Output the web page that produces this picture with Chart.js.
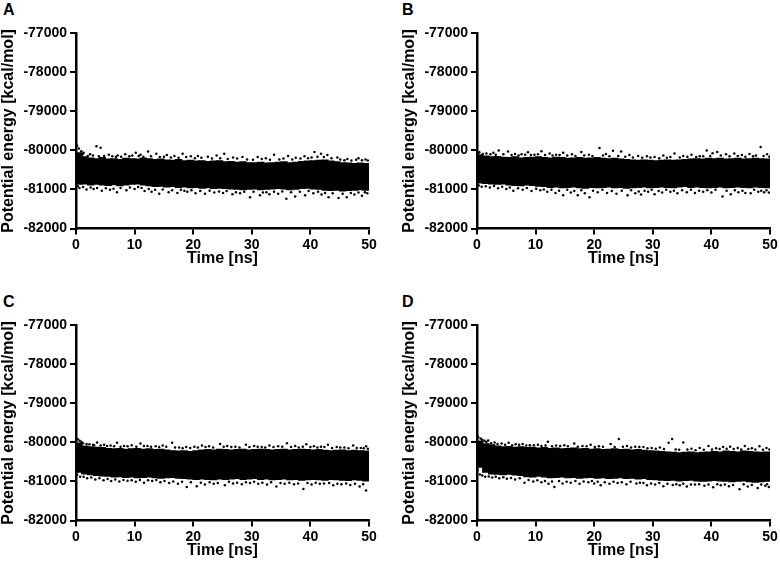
<!DOCTYPE html>
<html><head><meta charset="utf-8">
<script src="https://cdn.jsdelivr.net/npm/chart.js@4.4.1/dist/chart.umd.min.js"></script>
<style>
body{margin:0;width:780px;height:563px;background:#fff;position:relative;overflow:hidden;font-family:"Liberation Sans",Arial,sans-serif}
.p{position:absolute;width:379px;height:271px}
.l{position:absolute;font-weight:bold;font-size:16px;line-height:16px;color:#000}
</style></head><body>
<div class="l" style="left:3px;top:2px">A</div>
<div class="l" style="left:402px;top:2px">B</div>
<div class="l" style="left:3px;top:294px">C</div>
<div class="l" style="left:402px;top:294px">D</div>
<div class="p" style="left:0;top:0"><canvas id="cA"></canvas></div>
<div class="p" style="left:401px;top:0"><canvas id="cB"></canvas></div>
<div class="p" style="left:0;top:292px"><canvas id="cC"></canvas></div>
<div class="p" style="left:401px;top:292px"><canvas id="cD"></canvas></div>
<script>
// time bins (ns, bin centres, 1 ns wide)
const timeBins = [0.5,1.5,2.5,3.5,4.5,5.5,6.5,7.5,8.5,9.5,10.5,11.5,12.5,13.5,14.5,15.5,16.5,17.5,18.5,19.5,20.5,21.5,22.5,23.5,24.5,25.5,26.5,27.5,28.5,29.5,30.5,31.5,32.5,33.5,34.5,35.5,36.5,37.5,38.5,39.5,40.5,41.5,42.5,43.5,44.5,45.5,46.5,47.5,48.5,49.5];
const xTicks = [0,10,20,30,40,50];
const yTicks = [-82000,-81000,-80000,-79000,-78000,-77000];

// Panel A: dense band upper / lower edge (kcal/mol)
const upperA = [-80050,-80150,-80180,-80200,-80170,-80210,-80200,-80220,-80190,-80200,-80210,-80180,-80200,-80220,-80210,-80230,-80240,-80220,-80250,-80240,-80260,-80250,-80270,-80260,-80250,-80280,-80270,-80290,-80280,-80300,-80300,-80290,-80310,-80300,-80290,-80280,-80300,-80290,-80270,-80260,-80250,-80240,-80230,-80260,-80280,-80300,-80310,-80320,-80310,-80320];
const lowerA = [-80880,-80870,-80900,-80880,-80900,-80910,-80890,-80920,-80900,-80880,-80870,-80900,-80920,-80940,-80930,-80950,-80940,-80960,-80950,-80970,-80960,-80980,-80970,-80990,-80980,-80990,-81000,-81010,-81020,-81010,-81000,-81020,-81010,-81000,-80990,-81000,-81020,-81010,-80990,-80980,-81000,-81010,-81030,-81040,-81030,-81050,-81040,-81030,-81020,-81030];
const scatterA = [[0.2,-79880],[0.5,-79950],[1.3,-80060],[2.4,-80100],[3.5,-79890],[4.2,-79930],[5.6,-80110],[7.1,-80130],[8.4,-80100],[10.2,-80060],[11.0,-80110],[12.3,-80025],[13.7,-80085],[15.5,-80120],[16.8,-80140],[18.2,-80085],[19.6,-80150],[20.8,-80145],[22.5,-80160],[24.0,-80130],[25.3,-80085],[26.8,-80180],[28.4,-80170],[31.0,-80170],[32.4,-80200],[33.8,-80110],[36.2,-80140],[37.5,-80190],[39.0,-80150],[40.7,-80040],[41.8,-80085],[42.9,-80120],[44.6,-80180],[46.3,-80220],[48.2,-80200],[49.4,-80230],
[0.6,-80960],[1.8,-81000],[3.0,-80990],[4.4,-81030],[5.8,-81010],[7.0,-81070],[8.6,-81020],[10.0,-80990],[11.7,-81040],[12.9,-81060],[14.2,-81110],[15.8,-81070],[17.3,-81090],[19.0,-81060],[20.4,-81100],[22.0,-81110],[23.6,-81080],[25.1,-81090],[26.7,-81120],[28.0,-81100],[29.7,-81200],[31.4,-81150],[33.0,-81120],[34.5,-81110],[35.9,-81240],[37.4,-81180],[39.1,-81150],[40.5,-81100],[41.9,-81130],[43.1,-81200],[44.8,-81220],[46.2,-81200],[47.5,-81130],[48.8,-81160],[49.7,-81100]];
const fringeA = [[0.9,-80020],[1.1,-80100],[2.0,-80140],[2.9,-80130],[3.9,-80150],[4.8,-80140],[6.2,-80150],[6.8,-80170],[7.7,-80160],[9.1,-80150],[9.6,-80130],[10.7,-80140],[11.5,-80160],[12.8,-80150],[14.3,-80170],[15.0,-80160],[16.2,-80180],[17.5,-80190],[18.8,-80170],[20.3,-80200],[21.4,-80190],[23.2,-80210],[24.6,-80200],[25.9,-80220],[27.5,-80210],[29.2,-80230],[30.2,-80240],[31.7,-80220],[33.1,-80240],[34.7,-80230],[35.4,-80210],[36.9,-80230],[38.3,-80210],[39.6,-80200],[40.2,-80180],[41.2,-80160],[42.3,-80170],[43.6,-80200],[45.1,-80230],[45.8,-80250],[47.0,-80260],[47.8,-80240],[48.8,-80250],[49.8,-80260],
[0.3,-80920],[1.2,-80940],[2.5,-80950],[3.6,-80960],[5.1,-80970],[6.4,-80980],[7.6,-80960],[9.2,-80950],[10.6,-80940],[11.2,-80960],[12.4,-80990],[13.5,-81010],[14.8,-81000],[16.4,-81020],[17.9,-81010],[18.5,-81030],[19.7,-81020],[21.2,-81040],[22.8,-81030],[24.4,-81050],[25.7,-81040],[27.3,-81070],[28.7,-81060],[30.3,-81060],[31.9,-81080],[32.5,-81070],[33.8,-81060],[35.2,-81050],[36.7,-81070],[38.2,-81060],[39.7,-81040],[41.3,-81060],[42.5,-81090],[43.8,-81100],[45.5,-81110],[46.9,-81090],[48.2,-81080],[49.3,-81070]];

// Panel B
const upperB = [-80100,-80130,-80150,-80140,-80160,-80170,-80150,-80180,-80170,-80160,-80150,-80170,-80180,-80160,-80170,-80190,-80180,-80170,-80190,-80180,-80170,-80190,-80200,-80190,-80210,-80220,-80230,-80240,-80230,-80240,-80250,-80240,-80230,-80240,-80230,-80220,-80210,-80200,-80210,-80190,-80200,-80190,-80210,-80200,-80190,-80210,-80200,-80190,-80200,-80210];
const lowerB = [-80850,-80860,-80870,-80880,-80870,-80900,-80910,-80920,-80900,-80910,-80930,-80940,-80960,-80950,-80970,-80960,-80950,-80970,-80980,-80960,-80970,-80960,-80950,-80970,-80960,-80980,-80970,-80960,-80950,-80970,-80960,-80950,-80960,-80970,-80950,-80940,-80960,-80950,-80960,-80970,-80960,-80950,-80970,-80960,-80950,-80960,-80970,-80950,-80960,-80970];
const scatterB = [[0.4,-80050],[1.6,-80080],[2.8,-80060],[3.7,-80000],[5.3,-80030],[6.5,-80090],[7.6,-80100],[8.7,-80050],[9.8,-80110],[11.0,-80020],[12.4,-80080],[13.5,-80110],[14.7,-80060],[16.2,-80100],[17.8,-80040],[19.1,-80110],[20.9,-79940],[22.0,-80090],[23.2,-80010],[24.6,-80030],[26.0,-80120],[27.5,-80140],[29.0,-80150],[30.3,-80170],[31.8,-80130],[33.7,-80080],[35.2,-80140],[36.6,-80110],[38.0,-80150],[39.2,-80000],[40.2,-80070],[41.0,-80040],[42.5,-80100],[43.9,-80080],[45.2,-80120],[46.5,-80090],[47.6,-80130],[48.4,-79915],[49.5,-80100],
[0.8,-80930],[2.2,-80950],[3.6,-80970],[5.0,-80990],[6.2,-81030],[7.8,-81010],[9.3,-81040],[10.8,-81020],[12.0,-81060],[13.4,-81090],[14.7,-81150],[16.0,-81080],[17.2,-81150],[18.4,-81100],[19.2,-81200],[20.6,-81070],[22.2,-81090],[23.8,-81110],[25.7,-81150],[27.0,-81100],[28.0,-81130],[29.2,-81060],[30.3,-81120],[31.6,-81080],[33.0,-81060],[34.2,-81100],[35.8,-81070],[37.2,-81090],[38.6,-81060],[40.0,-81080],[41.9,-81180],[43.3,-81120],[44.6,-81070],[45.8,-81090],[46.7,-81100],[48.0,-81060],[49.0,-81070],[49.8,-81080]];
const fringeB = [[0.2,-80070],[1.0,-80090],[2.3,-80100],[3.2,-80110],[4.5,-80100],[5.9,-80120],[7.1,-80130],[8.2,-80110],[9.2,-80120],[10.4,-80100],[11.6,-80120],[12.9,-80130],[14.1,-80120],[15.4,-80130],[16.8,-80140],[18.3,-80130],[19.7,-80140],[21.5,-80130],[22.6,-80150],[24.1,-80140],[25.3,-80160],[26.6,-80180],[28.2,-80190],[29.6,-80180],[31.1,-80200],[32.4,-80190],[33.0,-80170],[34.6,-80180],[35.9,-80160],[37.4,-80170],[38.6,-80150],[39.8,-80140],[41.6,-80130],[43.1,-80150],[44.5,-80140],[45.8,-80160],[47.1,-80150],[48.9,-80140],[49.9,-80160],
[0.3,-80900],[1.5,-80920],[2.9,-80910],[4.3,-80930],[5.6,-80950],[7.0,-80970],[8.5,-80960],[10.1,-80980],[11.4,-81000],[12.7,-81010],[14.0,-81030],[15.4,-81010],[16.6,-81040],[17.8,-81020],[19.8,-81030],[21.4,-81010],[23.0,-81040],[24.7,-81030],[26.3,-81020],[27.6,-81050],[28.6,-81030],[29.8,-81010],[31.0,-81040],[32.3,-81010],[33.6,-81030],[35.0,-81020],[36.5,-81010],[37.9,-81030],[39.3,-81020],[40.7,-81010],[42.6,-81030],[44.0,-81020],[45.3,-81030],[47.3,-81010],[48.5,-81030],[49.4,-81020]];

// Panel C
const upperC = [-80000,-80080,-80100,-80110,-80120,-80140,-80150,-80140,-80160,-80150,-80140,-80160,-80150,-80170,-80160,-80180,-80200,-80210,-80200,-80220,-80200,-80180,-80170,-80180,-80160,-80170,-80180,-80170,-80160,-80180,-80170,-80160,-80170,-80180,-80170,-80160,-80180,-80170,-80160,-80170,-80180,-80170,-80190,-80200,-80190,-80180,-80200,-80190,-80200,-80210];
const lowerC = [-80780,-80820,-80840,-80860,-80870,-80880,-80900,-80890,-80910,-80900,-80920,-80910,-80900,-80920,-80930,-80920,-80910,-80930,-80940,-80950,-80960,-80950,-80960,-80970,-80950,-80960,-80950,-80940,-80960,-80950,-80940,-80960,-80950,-80970,-80960,-80950,-80970,-80960,-80980,-80970,-80960,-80970,-80980,-80960,-80970,-80980,-80990,-80970,-80980,-81000];
const scatterC = [[0.3,-79920],[0.9,-79980],[1.8,-80040],[2.9,-80060],[3.6,-80000],[4.8,-80060],[5.9,-80080],[7.0,-80010],[8.2,-80090],[9.5,-80070],[11.0,-80030],[12.2,-80090],[13.6,-80100],[14.8,-80080],[16.4,-80010],[17.6,-80130],[18.8,-80120],[20.2,-80110],[21.5,-80080],[22.7,-80100],[24.6,-80040],[25.8,-80090],[27.2,-80110],[29.0,-80060],[30.4,-80090],[31.7,-80120],[33.0,-80080],[34.5,-80100],[36.0,-80020],[37.4,-80090],[39.3,-80050],[40.6,-80100],[41.8,-80110],[43.0,-80060],[44.5,-80120],[45.8,-80130],[47.3,-80080],[48.6,-80140],[49.5,-80100],
[0.7,-80880],[1.9,-80920],[3.3,-80950],[4.7,-80970],[6.0,-80990],[7.4,-81000],[8.8,-80980],[10.2,-81010],[11.6,-81030],[13.0,-80990],[14.4,-81020],[15.9,-81040],[17.4,-81060],[18.9,-81145],[20.6,-81120],[22.0,-81080],[23.5,-81060],[25.4,-81100],[26.8,-81050],[28.3,-81070],[29.7,-81040],[31.1,-81060],[32.6,-81080],[34.2,-81130],[35.6,-81060],[37.2,-81070],[38.8,-81190],[40.2,-81080],[41.6,-81060],[43.9,-81100],[45.3,-81070],[46.8,-81090],[48.4,-81130],[49.5,-81230]];
const fringeC = [[0.6,-79960],[1.2,-80020],[2.3,-80050],[3.1,-80070],[4.2,-80080],[5.3,-80090],[6.5,-80100],[7.6,-80110],[8.8,-80100],[10.3,-80110],[11.6,-80090],[12.8,-80110],[14.2,-80120],[15.4,-80110],[16.9,-80130],[18.2,-80150],[19.5,-80140],[20.8,-80130],[22.1,-80120],[23.4,-80130],[25.2,-80110],[26.5,-80120],[27.9,-80130],[29.6,-80120],[31.0,-80110],[32.3,-80130],[33.7,-80120],[35.2,-80110],[36.7,-80120],[38.0,-80130],[38.7,-80110],[40.0,-80120],[41.2,-80130],[42.4,-80120],[43.7,-80140],[45.1,-80130],[46.5,-80150],[47.9,-80140],[49.1,-80150],[49.8,-80160],
[0.2,-80830],[1.3,-80880],[2.6,-80900],[4.0,-80920],[5.4,-80940],[6.7,-80950],[8.1,-80960],[9.5,-80970],[10.9,-80960],[12.3,-80970],[13.7,-80960],[15.1,-80990],[16.6,-81000],[18.1,-81010],[19.6,-81020],[21.3,-81030],[22.8,-81020],[24.2,-81040],[26.1,-81010],[27.5,-81030],[29.0,-81020],[30.4,-81010],[31.8,-81030],[33.3,-81020],[34.9,-81040],[36.4,-81030],[37.9,-81050],[39.5,-81040],[40.9,-81030],[42.3,-81050],[43.2,-81040],[44.6,-81060],[46.1,-81050],[47.6,-81060],[49.0,-81070]];

// Panel D
const upperD = [-79950,-80020,-80050,-80080,-80100,-80090,-80110,-80100,-80120,-80110,-80130,-80120,-80140,-80130,-80150,-80140,-80130,-80150,-80140,-80160,-80150,-80170,-80160,-80150,-80170,-80160,-80180,-80170,-80190,-80200,-80210,-80220,-80230,-80240,-80250,-80240,-80230,-80250,-80240,-80230,-80220,-80230,-80210,-80220,-80230,-80210,-80220,-80230,-80240,-80230];
const lowerD = [-80650,-80780,-80820,-80830,-80840,-80830,-80850,-80860,-80890,-80900,-80880,-80900,-80920,-80910,-80900,-80920,-80910,-80930,-80920,-80910,-80930,-80920,-80940,-80930,-80920,-80940,-80930,-80950,-80940,-80960,-80970,-80980,-80990,-80980,-81000,-80990,-80980,-81000,-81010,-81000,-80990,-81000,-81010,-81020,-81010,-81000,-81020,-81030,-81020,-81010];
const scatterD = [[0.2,-79860],[0.6,-79900],[1.3,-79960],[1.9,-79950],[3.0,-80000],[4.2,-80030],[5.4,-80010],[6.6,-80050],[7.8,-80040],[9.0,-80070],[10.4,-80060],[12.1,-79980],[13.5,-80080],[14.9,-80070],[16.6,-80030],[18.0,-80090],[19.4,-80060],[20.8,-80100],[22.8,-80040],[24.2,-79915],[25.6,-80090],[27.0,-80110],[28.4,-80120],[29.8,-80140],[31.2,-80130],[32.7,-80010],[33.3,-79915],[35.2,-80000],[36.6,-80160],[38.0,-80140],[39.5,-80090],[40.8,-80150],[42.0,-80120],[43.2,-80110],[44.5,-80140],[45.7,-80090],[46.9,-80150],[48.2,-80100],[49.4,-80140],
[0.5,-80820],[1.4,-80880],[2.6,-80900],[3.8,-80920],[5.1,-80930],[6.5,-80950],[8.1,-81030],[9.6,-81000],[11.0,-81020],[12.2,-81060],[13.2,-81140],[14.6,-81050],[16.0,-81030],[17.5,-81060],[19.0,-81020],[20.0,-81050],[21.1,-81100],[22.6,-81060],[24.0,-81040],[25.5,-81070],[27.2,-81050],[29.0,-81100],[30.4,-81080],[31.8,-81120],[33.4,-81090],[34.6,-81100],[35.8,-81130],[37.2,-81080],[38.8,-81110],[40.3,-81150],[41.6,-81100],[43.0,-81120],[44.8,-81200],[46.2,-81130],[47.9,-81170],[49.2,-81110],[49.8,-81140]];
const fringeD = [[0.9,-79930],[1.6,-79990],[2.4,-80020],[3.5,-80040],[4.8,-80060],[6.0,-80070],[7.2,-80060],[8.4,-80080],[9.7,-80070],[11.0,-80090],[11.7,-80080],[12.8,-80100],[14.2,-80090],[15.5,-80100],[17.2,-80110],[18.7,-80100],[20.1,-80120],[21.5,-80110],[23.5,-80120],[24.9,-80110],[26.3,-80130],[27.7,-80120],[29.1,-80150],[30.5,-80160],[31.9,-80170],[33.9,-80180],[34.5,-80190],[35.9,-80180],[37.3,-80200],[38.7,-80190],[40.1,-80180],[41.4,-80170],[42.6,-80160],[43.8,-80170],[45.1,-80180],[46.3,-80170],[47.5,-80180],[48.8,-80190],[49.9,-80180],
[0.1,-80700],[0.9,-80850],[2.0,-80870],[3.2,-80880],[4.5,-80890],[5.8,-80910],[7.3,-80920],[8.8,-80960],[10.3,-80970],[11.6,-80990],[12.8,-81000],[14.0,-80990],[15.3,-81010],[16.8,-80990],[18.2,-81000],[19.6,-80990],[20.6,-81010],[21.8,-81020],[23.3,-81010],[24.7,-81020],[26.2,-81010],[27.8,-81030],[28.4,-81040],[29.7,-81050],[31.1,-81040],[32.5,-81060],[34.0,-81070],[35.2,-81060],[36.5,-81080],[37.9,-81070],[39.5,-81080],[41.0,-81070],[42.3,-81080],[43.7,-81090],[45.5,-81070],[46.9,-81090],[48.5,-81080],[49.5,-81070]];

Chart.defaults.font.family = '"Liberation Sans", Arial, sans-serif';
Chart.defaults.color = '#000';

function makePanel(id, upper, lower, scatter, fringe) {
  const tickFont = {size: 14, weight: 'bold'};
  const titleFont = {size: 16, weight: 'bold', lineHeight: 1.1};
  const pts = scatter.concat(fringe);
  new Chart(document.getElementById(id), {
    data: {
      datasets: [
        {type: 'bar', data: timeBins.map((t, i) => ({x: t, y: [lower[i], upper[i]]})),
         backgroundColor: '#000', borderWidth: 0,
         barPercentage: 1.25, categoryPercentage: 1, grouped: false},
        {type: 'scatter', data: pts.map(p => ({x: p[0], y: p[1]})),
         pointRadius: 1.25, pointBackgroundColor: '#000', pointBorderWidth: 0}
      ]
    },
    options: {
      responsive: true, maintainAspectRatio: false, animation: false, devicePixelRatio: 1,
      layout: {padding: {left: 0, right: 10, top: 33.3, bottom: 0}},
      plugins: {legend: {display: false}, tooltip: {enabled: false}},
      scales: {
        x: {type: 'linear', min: 0, max: 50, offset: false,
            afterFit(s) { s.height = 42.5; },
            afterBuildTicks(s) { s.ticks = xTicks.map(v => ({value: v})); },
            border: {color: '#000', width: 2.5, z: 1},
            grid: {drawOnChartArea: false, color: '#000', lineWidth: 2, tickLength: 6, offset: false},
            ticks: {color: '#000', font: tickFont, padding: 2, maxRotation: 0, autoSkip: false, callback: v => String(v)},
            title: {display: true, text: 'Time [ns]', color: '#000', font: titleFont, padding: {top: 0, bottom: 4}}},
        y: {type: 'linear', min: -82000, max: -77000,
            afterFit(s) { s.width = 76; },
            afterBuildTicks(s) { s.ticks = yTicks.map(v => ({value: v})); },
            border: {color: '#000', width: 2.5, z: 1},
            grid: {drawOnChartArea: false, color: '#000', lineWidth: 2, tickLength: 6},
            ticks: {color: '#000', font: tickFont, padding: 3, autoSkip: false, callback: v => String(v)},
            title: {display: true, text: 'Potential energy [kcal/mol]', color: '#000', font: titleFont, padding: {top: 0, bottom: 0}}}
      }
    }
  });
}
makePanel('cA', upperA, lowerA, scatterA, fringeA);
makePanel('cB', upperB, lowerB, scatterB, fringeB);
makePanel('cC', upperC, lowerC, scatterC, fringeC);
makePanel('cD', upperD, lowerD, scatterD, fringeD);
</script>
</body></html>
